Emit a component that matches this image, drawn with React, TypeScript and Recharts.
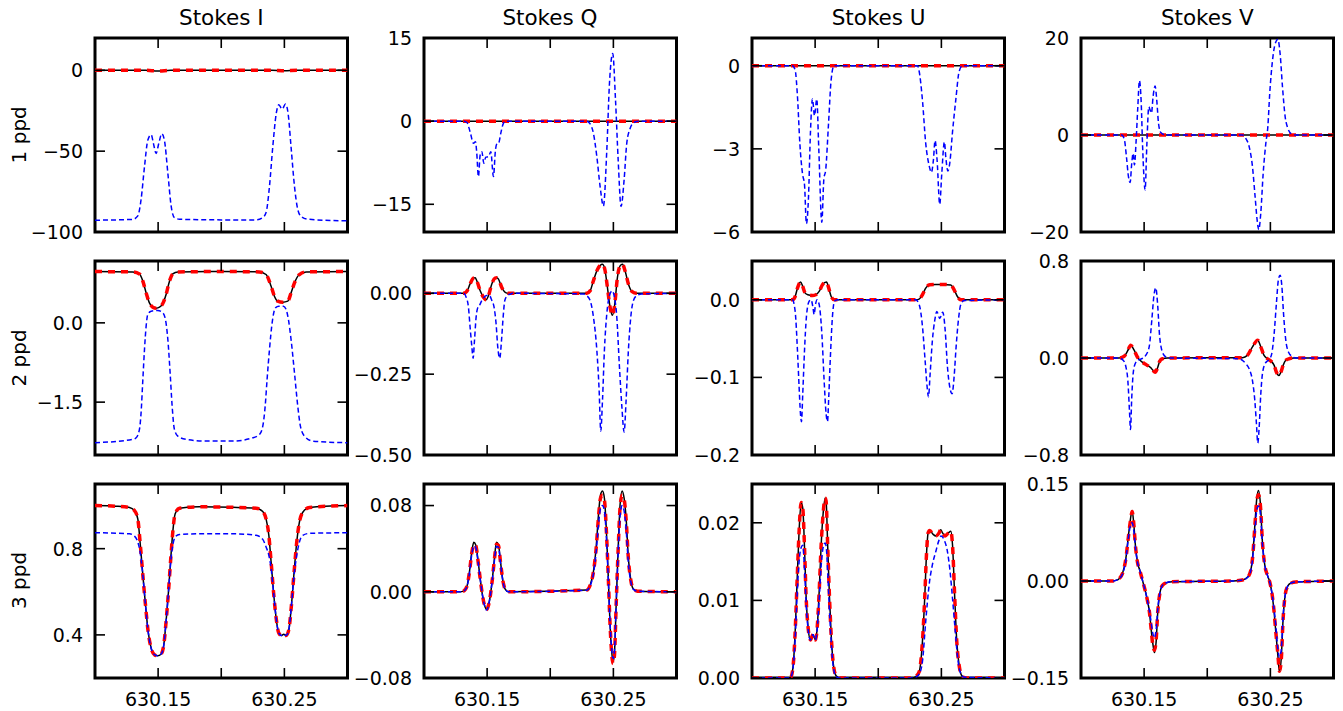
import { LineChart, Line, XAxis, YAxis, ReferenceArea } from "recharts";

type Pt = [number, number];

const columnTitles = ["Stokes I", "Stokes Q", "Stokes U", "Stokes V"];
const rowTitles = ["1 ppd", "2 ppd", "3 ppd"];
const waveTicks = [630.15, 630.2, 630.25];
const waveLabels = ["630.15", "", "630.25"];
const waveDomain = [630.1, 630.3];

// ---- 1 ppd ----
const i1Black: Pt[] = [[630.1, 0], [630.14, 0], [630.15, -0.4], [630.16, 0], [630.24, 0], [630.25, -0.3], [630.26, 0], [630.3, 0]];
const i1Blue: Pt[] = [[630.1, -92.7], [630.1299, -92.2], [630.1339, -90.0], [630.1365, -79.9], [630.1392, -59.6], [630.1418, -43.3], [630.1445, -39.8], [630.1463, -45.3], [630.1484, -51.4], [630.1505, -45.3], [630.1529, -39.2], [630.155, -43.3], [630.1577, -63.6], [630.1603, -83.9], [630.1629, -91.1], [630.1669, -92.1], [630.2, -92.5], [630.2276, -92.5], [630.2329, -91.1], [630.2355, -88.0], [630.2382, -71.7], [630.2408, -47.4], [630.2435, -27.0], [630.2456, -21.3], [630.2482, -24.0], [630.2509, -20.9], [630.253, -27.0], [630.2553, -47.4], [630.258, -71.7], [630.2606, -86.0], [630.2633, -90.4], [630.2685, -92.1], [630.3, -93.1]];

const q1Black: Pt[] = [[630.1, 0], [630.3, 0]];
const q1Blue: Pt[] = [[630.1, 0], [630.1313, 0], [630.1339, -0.2], [630.1365, -1.9], [630.1392, -4.0], [630.1408, -3.7], [630.1418, -5.8], [630.1431, -10.0], [630.1445, -6.1], [630.1458, -5.5], [630.1474, -7.6], [630.1489, -6.5], [630.1511, -6.4], [630.1529, -5.5], [630.155, -10.0], [630.1566, -5.2], [630.1579, -4.0], [630.1592, -3.9], [630.1608, -2.2], [630.1629, -0.4], [630.165, 0], [630.2289, 0], [630.2316, -0.5], [630.2342, -2.2], [630.2369, -6.4], [630.2395, -11.8], [630.2421, -15.3], [630.2448, -5.2], [630.2469, 6.8], [630.2495, 12.2], [630.2517, 3.8], [630.2538, -7.0], [630.2561, -15.4], [630.2585, -10.6], [630.2606, -4.0], [630.2633, -1.3], [630.2659, -0.3], [630.2699, 0], [630.3, 0]];

const u1Black: Pt[] = [[630.1, 0], [630.3, 0]];
const u1Blue: Pt[] = [[630.1, 0], [630.132, 0], [630.1342, -0.16], [630.136, -1.1], [630.1379, -2.8], [630.14, -3.9], [630.1416, -4.3], [630.1431, -5.7], [630.1447, -4.8], [630.1463, -2.4], [630.1479, -1.2], [630.1495, -1.8], [630.1513, -1.2], [630.1529, -3.0], [630.1553, -5.65], [630.1569, -4.1], [630.1584, -3.75], [630.1606, -2.1], [630.1627, -0.5], [630.165, 0], [630.2311, 0], [630.2324, -0.2], [630.235, -1.24], [630.2376, -2.8], [630.2403, -3.6], [630.2421, -3.85], [630.2437, -3.4], [630.245, -2.7], [630.2466, -3.4], [630.2487, -5.0], [630.2503, -3.9], [630.2524, -2.75], [630.2535, -3.3], [630.2551, -3.8], [630.2567, -3.5], [630.2588, -2.4], [630.2614, -1.24], [630.2641, -0.2], [630.2667, 0], [630.3, 0]];

const v1Black: Pt[] = [[630.1, 0], [630.3, 0]];
const v1Blue: Pt[] = [[630.1, 0], [630.1323, 0], [630.1344, -1.0], [630.136, -4.5], [630.1376, -8.6], [630.1389, -9.8], [630.1402, -5.8], [630.1413, -3.8], [630.1423, -6.2], [630.1437, -1.0], [630.145, 5.8], [630.1463, 11.2], [630.1476, 7.2], [630.1489, -3.1], [630.1508, -11.3], [630.1521, -2.4], [630.1537, 5.8], [630.1548, 5.1], [630.1558, 4.5], [630.1571, 7.9], [630.1587, 10.1], [630.16, 7.2], [630.1614, 2.4], [630.1632, 0.5], [630.1672, 0], [630.2279, 0], [630.2305, -0.7], [630.2332, -2.4], [630.2358, -6.5], [630.2379, -12.7], [630.2395, -17.5], [630.2408, -19.5], [630.2424, -16.1], [630.2443, -7.9], [630.2464, -1.7], [630.248, 1.7], [630.2495, 8.6], [630.2517, 15.4], [630.2538, 18.8], [630.2559, 19.7], [630.2577, 16.8], [630.2596, 9.9], [630.2617, 3.8], [630.2638, 1.4], [630.2664, 0.3], [630.2701, 0], [630.3, 0]];

// ---- 2 ppd ----
const i2Black: Pt[] = [[630.1, 0.97], [630.1299, 0.964], [630.1352, 0.926], [630.1379, 0.788], [630.1405, 0.567], [630.1431, 0.378], [630.1458, 0.296], [630.1484, 0.277], [630.1511, 0.296], [630.1537, 0.365], [630.1563, 0.536], [630.159, 0.788], [630.1616, 0.926], [630.1656, 0.964], [630.2, 0.97], [630.2303, 0.964], [630.2355, 0.914], [630.2395, 0.693], [630.2421, 0.504], [630.2448, 0.41], [630.2487, 0.39], [630.2527, 0.41], [630.2553, 0.567], [630.258, 0.756], [630.2619, 0.914], [630.2672, 0.964], [630.3, 0.97]];
const i2Blue: Pt[] = [[630.1, -2.268], [630.1299, -2.205], [630.1326, -2.174], [630.1352, -2.016], [630.1365, -1.701], [630.1379, -1.071], [630.1392, -0.504], [630.1405, -0.063], [630.1418, 0.158], [630.1445, 0.22], [630.1497, 0.233], [630.1537, 0.189], [630.1558, 0.063], [630.1577, -0.315], [630.1595, -0.945], [630.1611, -1.575], [630.1629, -2.016], [630.1656, -2.142], [630.1722, -2.205], [630.188, -2.237], [630.2091, -2.237], [630.225, -2.174], [630.2303, -2.111], [630.2329, -1.953], [630.2348, -1.575], [630.2363, -1.071], [630.2382, -0.504], [630.2403, 0], [630.2429, 0.284], [630.2456, 0.315], [630.2493, 0.315], [630.2514, 0.252], [630.2532, 0.063], [630.2553, -0.315], [630.258, -0.945], [630.2606, -1.575], [630.2627, -1.953], [630.2659, -2.142], [630.2725, -2.237], [630.3, -2.268]];

const q2Black: Pt[] = [[630.1, 0], [630.1313, 0], [630.1339, 0.006], [630.1365, 0.029], [630.1392, 0.047], [630.1405, 0.048], [630.1418, 0.039], [630.1445, 0.008], [630.1471, -0.012], [630.1492, -0.02], [630.1511, -0.007], [630.1537, 0.029], [630.1563, 0.047], [630.1577, 0.048], [630.159, 0.044], [630.1616, 0.018], [630.1643, 0.003], [630.1669, 0], [630.2289, 0], [630.2316, 0.008], [630.2342, 0.039], [630.2374, 0.074], [630.2414, 0.09], [630.2435, 0.069], [630.2453, 0.018], [630.2474, -0.043], [630.2493, -0.068], [630.2511, -0.033], [630.2532, 0.049], [630.2553, 0.085], [630.2572, 0.09], [630.2593, 0.069], [630.2619, 0.029], [630.2646, 0.006], [630.2685, 0], [630.3, 0]];
const q2Blue: Pt[] = [[630.1, 0], [630.1313, 0], [630.1334, -0.012], [630.1352, -0.043], [630.1365, -0.104], [630.1379, -0.165], [630.1389, -0.201], [630.14, -0.145], [630.1413, -0.073], [630.1423, -0.048], [630.1439, -0.038], [630.1458, -0.022], [630.1476, -0.012], [630.1497, -0.007], [630.1518, -0.007], [630.1537, -0.022], [630.1555, -0.043], [630.1571, -0.094], [630.1584, -0.165], [630.16, -0.201], [630.1614, -0.145], [630.1627, -0.073], [630.164, -0.022], [630.1661, -0.007], [630.1687, -0.002], [630.17, 0], [630.2263, -0.002], [630.2289, -0.007], [630.2316, -0.022], [630.2342, -0.073], [630.2369, -0.176], [630.2387, -0.298], [630.24, -0.426], [630.2414, -0.329], [630.2429, -0.176], [630.2448, -0.063], [630.2469, -0.007], [630.249, 0.008], [630.2506, -0.007], [630.2527, -0.073], [630.2548, -0.227], [630.2567, -0.349], [630.2585, -0.429], [630.2601, -0.329], [630.2619, -0.176], [630.2638, -0.073], [630.2659, -0.022], [630.2685, -0.007], [630.2725, -0.002], [630.3, 0]];

const u2Black: Pt[] = [[630.1, 0], [630.132, 0], [630.1342, 0.0043], [630.136, 0.015], [630.1384, 0.0228], [630.1402, 0.0172], [630.1421, 0.0086], [630.1442, 0.0065], [630.1479, 0.0056], [630.1505, 0.0065], [630.1532, 0.0108], [630.1558, 0.0194], [630.159, 0.0228], [630.1608, 0.015], [630.1627, 0.0043], [630.1653, 0], [630.23, 0], [630.2324, 0.0009], [630.235, 0.0065], [630.2376, 0.015], [630.2408, 0.0194], [630.2456, 0.0198], [630.2509, 0.0198], [630.2575, 0.019], [630.2601, 0.0129], [630.2627, 0.0043], [630.2654, 0], [630.3, 0]];
const u2Blue: Pt[] = [[630.1, 0], [630.132, 0], [630.1342, -0.015], [630.136, -0.065], [630.1373, -0.112], [630.1384, -0.147], [630.1392, -0.157], [630.1402, -0.121], [630.1416, -0.065], [630.1431, -0.022], [630.1452, -0.002], [630.1468, 0], [630.1482, -0.009], [630.1492, -0.019], [630.1503, -0.006], [630.1516, 0], [630.1532, -0.006], [630.1553, -0.043], [630.1571, -0.103], [630.1587, -0.147], [630.1598, -0.157], [630.1608, -0.125], [630.1621, -0.073], [630.1637, -0.022], [630.1653, -0.002], [630.1677, 0], [630.2297, 0], [630.2324, -0.006], [630.235, -0.034], [630.2371, -0.078], [630.2387, -0.112], [630.2398, -0.125], [630.2411, -0.095], [630.2429, -0.052], [630.2448, -0.026], [630.2464, -0.015], [630.2487, -0.024], [630.2511, -0.016], [630.253, -0.039], [630.2548, -0.086], [630.2567, -0.113], [630.2585, -0.121], [630.2601, -0.099], [630.2617, -0.06], [630.2635, -0.026], [630.2654, -0.006], [630.268, -0.001], [630.3, 0]];

const v2Black: Pt[] = [[630.1, 0], [630.1302, 0], [630.1342, 0.014], [630.1368, 0.056], [630.1394, 0.106], [630.1421, 0.064], [630.1447, 0.008], [630.1474, -0.025], [630.1513, -0.053], [630.1553, -0.081], [630.1571, -0.103], [630.1587, -0.117], [630.1606, -0.083], [630.1624, -0.025], [630.1645, -0.006], [630.1685, 0], [630.2279, 0.003], [630.2318, 0.022], [630.2358, 0.092], [630.24, 0.147], [630.2424, 0.092], [630.245, 0.022], [630.2477, -0.006], [630.2503, -0.025], [630.253, -0.061], [630.2548, -0.117], [630.2567, -0.145], [630.2583, -0.117], [630.2601, -0.061], [630.2622, -0.019], [630.2649, -0.006], [630.2688, 0], [630.3, 0]];
const v2Blue: Pt[] = [[630.1, 0], [630.1302, 0], [630.1334, -0.019], [630.1355, -0.07], [630.1371, -0.186], [630.1384, -0.437], [630.1392, -0.59], [630.1402, -0.326], [630.1413, -0.131], [630.1429, -0.047], [630.145, -0.019], [630.1482, -0.006], [630.1513, 0.022], [630.154, 0.092], [630.1561, 0.314], [630.1577, 0.509], [630.1592, 0.579], [630.1608, 0.426], [630.1621, 0.203], [630.164, 0.064], [630.1666, 0.014], [630.1698, 0], [630.2252, -0.006], [630.2279, -0.019], [630.2305, -0.047], [630.2332, -0.089], [630.2358, -0.186], [630.2377, -0.353], [630.239, -0.548], [630.24, -0.701], [630.2411, -0.576], [630.2424, -0.298], [630.2437, -0.131], [630.2458, -0.047], [630.2477, -0.025], [630.2495, -0.006], [630.2511, 0.036], [630.253, 0.203], [630.2548, 0.454], [630.2564, 0.648], [630.2577, 0.682], [630.2591, 0.593], [630.2604, 0.37], [630.2622, 0.147], [630.2643, 0.05], [630.267, 0.014], [630.2701, 0], [630.3, 0]];

// ---- 3 ppd ----
const i3Black: Pt[] = [[630.1, 1.0], [630.1167, 0.997], [630.1273, 0.991], [630.1313, 0.977], [630.1339, 0.938], [630.1357, 0.831], [630.1379, 0.677], [630.14, 0.538], [630.1421, 0.415], [630.1445, 0.338], [630.1471, 0.308], [630.1497, 0.303], [630.1524, 0.311], [630.1545, 0.354], [630.1563, 0.462], [630.1582, 0.6], [630.16, 0.754], [630.1616, 0.877], [630.1635, 0.962], [630.1669, 0.988], [630.1827, 0.994], [630.2091, 0.992], [630.2276, 0.988], [630.2329, 0.972], [630.2355, 0.938], [630.2377, 0.862], [630.2395, 0.738], [630.2414, 0.6], [630.2435, 0.477], [630.2456, 0.408], [630.2477, 0.397], [630.2495, 0.403], [630.2514, 0.397], [630.2535, 0.423], [630.2556, 0.538], [630.2577, 0.692], [630.2598, 0.831], [630.2619, 0.923], [630.2646, 0.969], [630.2699, 0.991], [630.3, 1.0]];
const i3Blue: Pt[] = [[630.1, 0.874], [630.1273, 0.869], [630.1313, 0.858], [630.1339, 0.831], [630.1357, 0.785], [630.1379, 0.677], [630.14, 0.538], [630.1421, 0.415], [630.1445, 0.338], [630.1471, 0.308], [630.1497, 0.303], [630.1524, 0.311], [630.1545, 0.354], [630.1563, 0.462], [630.1582, 0.6], [630.16, 0.738], [630.1616, 0.815], [630.1635, 0.854], [630.1669, 0.866], [630.1827, 0.869], [630.2091, 0.869], [630.2276, 0.862], [630.2329, 0.843], [630.2355, 0.808], [630.2377, 0.769], [630.2395, 0.708], [630.2414, 0.6], [630.2435, 0.477], [630.2456, 0.408], [630.2477, 0.397], [630.2495, 0.403], [630.2514, 0.397], [630.2535, 0.423], [630.2556, 0.538], [630.2577, 0.677], [630.2598, 0.769], [630.2619, 0.831], [630.2646, 0.862], [630.2699, 0.871], [630.3, 0.874]];

const q3Black: Pt[] = [[630.1, 0], [630.1286, 0], [630.1313, 0.0006], [630.1339, 0.0047], [630.136, 0.0186], [630.1379, 0.0372], [630.1394, 0.0459], [630.141, 0.0434], [630.1426, 0.031], [630.1445, 0.0124], [630.1463, -0.0031], [630.1479, -0.0124], [630.1495, -0.0161], [630.1511, -0.0124], [630.1526, -0.0031], [630.1542, 0.0124], [630.1558, 0.031], [630.1574, 0.0459], [630.159, 0.0434], [630.1606, 0.0279], [630.1624, 0.0109], [630.1643, 0.0025], [630.1669, 0], [630.2289, 0.0016], [630.2316, 0.0062], [630.2342, 0.0186], [630.2363, 0.0403], [630.2382, 0.0713], [630.2398, 0.0899], [630.2414, 0.0936], [630.2429, 0.0868], [630.2445, 0.0558], [630.2461, 0.0093], [630.2474, -0.031], [630.2487, -0.0558], [630.2498, -0.0651], [630.2509, -0.0558], [630.2522, -0.0124], [630.2538, 0.0403], [630.2553, 0.0806], [630.2569, 0.0936], [630.2585, 0.0868], [630.2601, 0.0682], [630.2619, 0.031], [630.2638, 0.0109], [630.2659, 0.0025], [630.2691, 0.0006], [630.3, 0]];
const q3Red: Pt[] = [[630.1, 0], [630.1286, 0], [630.1313, 0.0006], [630.1339, 0.0047], [630.136, 0.0184], [630.1379, 0.0365], [630.1394, 0.044], [630.141, 0.043], [630.1426, 0.0305], [630.1445, 0.0122], [630.1463, -0.0031], [630.1479, -0.0125], [630.1495, -0.0165], [630.1511, -0.0125], [630.1526, -0.0031], [630.1542, 0.0122], [630.1558, 0.0305], [630.1574, 0.044], [630.159, 0.043], [630.1606, 0.0275], [630.1624, 0.0108], [630.1643, 0.0025], [630.1669, 0], [630.2289, 0.0016], [630.2316, 0.0062], [630.2342, 0.0184], [630.2363, 0.0395], [630.2382, 0.069], [630.2398, 0.087], [630.2414, 0.0895], [630.2429, 0.085], [630.2445, 0.0555], [630.2461, 0.0093], [630.2474, -0.031], [630.2487, -0.058], [630.2498, -0.0667], [630.2509, -0.058], [630.2522, -0.0124], [630.2538, 0.0395], [630.2553, 0.078], [630.2569, 0.0895], [630.2585, 0.086], [630.2601, 0.067], [630.2619, 0.0305], [630.2638, 0.0108], [630.2659, 0.0025], [630.2691, 0.0006], [630.3, 0]];
const q3Blue: Pt[] = [[630.1, 0], [630.1286, 0], [630.1313, 0.0005], [630.1339, 0.0042], [630.136, 0.0172], [630.1379, 0.035], [630.1394, 0.0425], [630.141, 0.041], [630.1426, 0.03], [630.1445, 0.0118], [630.1463, -0.003], [630.1479, -0.0124], [630.1495, -0.017], [630.1511, -0.0124], [630.1526, -0.003], [630.1542, 0.0118], [630.1558, 0.029], [630.1574, 0.042], [630.159, 0.0415], [630.1606, 0.027], [630.1624, 0.0105], [630.1643, 0.0022], [630.1669, 0], [630.2289, 0.0014], [630.2316, 0.0055], [630.2342, 0.0165], [630.2363, 0.036], [630.2382, 0.062], [630.2398, 0.077], [630.2414, 0.08], [630.2429, 0.075], [630.2445, 0.05], [630.2461, 0.008], [630.2474, -0.03], [630.2487, -0.053], [630.2498, -0.062], [630.2509, -0.054], [630.2522, -0.012], [630.2538, 0.036], [630.2553, 0.07], [630.2569, 0.08], [630.2585, 0.075], [630.2601, 0.058], [630.2619, 0.026], [630.2638, 0.0095], [630.2659, 0.0022], [630.2691, 0.0005], [630.3, 0]];

const u3Black: Pt[] = [[630.1, 0], [630.1294, 0], [630.1307, 0.0001], [630.1326, 0.0016], [630.1342, 0.006], [630.1357, 0.0124], [630.1373, 0.0189], [630.1389, 0.0226], [630.1402, 0.0219], [630.1416, 0.0168], [630.1429, 0.0103], [630.1445, 0.0064], [630.1463, 0.0049], [630.1482, 0.0056], [630.1503, 0.0049], [630.1516, 0.0064], [630.1532, 0.0111], [630.1548, 0.0172], [630.1563, 0.0211], [630.1579, 0.0232], [630.1587, 0.0228], [630.16, 0.0168], [630.1614, 0.0103], [630.1629, 0.005], [630.1645, 0.0017], [630.1666, 0.0003], [630.1695, 0], [630.2271, 0], [630.2297, 0.0002], [630.2324, 0.0008], [630.235, 0.0047], [630.2368, 0.0103], [630.2382, 0.0159], [630.2395, 0.0187], [630.2408, 0.019], [630.2435, 0.0185], [630.2456, 0.0183], [630.2482, 0.0187], [630.2495, 0.0191], [630.2509, 0.0187], [630.253, 0.0183], [630.2556, 0.0187], [630.2575, 0.0189], [630.2588, 0.0172], [630.2606, 0.0103], [630.2622, 0.0047], [630.2641, 0.0016], [630.2662, 0.0003], [630.2694, 0], [630.3, 0]];
const u3Blue: Pt[] = [[630.1, 0], [630.1294, 0], [630.1307, 0.0001], [630.1326, 0.0014], [630.1342, 0.005], [630.1357, 0.0105], [630.1373, 0.015], [630.1389, 0.0168], [630.1402, 0.0171], [630.1416, 0.014], [630.1429, 0.0095], [630.1445, 0.0062], [630.1463, 0.0049], [630.1482, 0.0056], [630.1503, 0.0049], [630.1516, 0.0062], [630.1532, 0.01], [630.1548, 0.0145], [630.1563, 0.0168], [630.1579, 0.0174], [630.1587, 0.017], [630.16, 0.0135], [630.1614, 0.0085], [630.1629, 0.0042], [630.1645, 0.0013], [630.1666, 0.0002], [630.1695, 0], [630.2271, 0], [630.2297, 0.0001], [630.2324, 0.0005], [630.235, 0.0021], [630.2376, 0.0073], [630.2403, 0.012], [630.2429, 0.0146], [630.2456, 0.0163], [630.2482, 0.0178], [630.2498, 0.0183], [630.2522, 0.0178], [630.2548, 0.0163], [630.2569, 0.0137], [630.2588, 0.0103], [630.2606, 0.0068], [630.2627, 0.0029], [630.2648, 0.0008], [630.268, 0.0001], [630.3, 0]];

const v3Black: Pt[] = [[630.1, 0], [630.1249, 0], [630.1276, 0.001], [630.1302, 0.0036], [630.1328, 0.0113], [630.1355, 0.0345], [630.1376, 0.0705], [630.1392, 0.0962], [630.1405, 0.1091], [630.1418, 0.0885], [630.1431, 0.0551], [630.1447, 0.0293], [630.1466, 0.0165], [630.1487, 0.001], [630.1508, -0.0144], [630.1526, -0.0299], [630.1542, -0.0479], [630.1555, -0.0736], [630.1569, -0.0968], [630.1582, -0.1106], [630.1595, -0.0942], [630.1608, -0.0479], [630.1624, -0.0196], [630.1645, -0.0067], [630.1677, -0.0026], [630.1724, -0.001], [630.1962, -0.0005], [630.22, 0], [630.2266, 0.001], [630.2305, 0.0036], [630.2337, 0.0113], [630.2358, 0.0345], [630.2377, 0.0859], [630.2392, 0.1271], [630.2406, 0.14], [630.2422, 0.1168], [630.2437, 0.0602], [630.2456, 0.0242], [630.2477, 0.0087], [630.2495, -0.0015], [630.2511, -0.017], [630.2527, -0.0427], [630.2543, -0.0787], [630.2559, -0.1148], [630.2572, -0.1405], [630.2586, -0.1199], [630.2601, -0.0582], [630.2617, -0.0221], [630.2638, -0.0077], [630.2665, -0.0031], [630.2701, -0.0015], [630.3, 0]];
const v3Red: Pt[] = [[630.1, 0], [630.1249, 0], [630.1276, 0.001], [630.1302, 0.0036], [630.1328, 0.0113], [630.1355, 0.034], [630.1376, 0.069], [630.1392, 0.0937], [630.1405, 0.1076], [630.1418, 0.0885], [630.1431, 0.0551], [630.1447, 0.0293], [630.1466, 0.0165], [630.1487, 0.001], [630.1508, -0.0144], [630.1526, -0.0299], [630.1542, -0.0479], [630.1555, -0.073], [630.1569, -0.0993], [630.1582, -0.107], [630.1595, -0.0916], [630.1608, -0.0479], [630.1624, -0.0196], [630.1645, -0.0067], [630.1677, -0.0026], [630.1724, -0.001], [630.1962, -0.0005], [630.22, 0], [630.2266, 0.001], [630.2305, 0.0036], [630.2337, 0.0113], [630.2358, 0.034], [630.2377, 0.084], [630.2392, 0.1245], [630.2406, 0.1333], [630.2422, 0.1143], [630.2437, 0.0602], [630.2456, 0.0242], [630.2477, 0.0087], [630.2495, -0.0015], [630.2511, -0.017], [630.2527, -0.0427], [630.2543, -0.0787], [630.2559, -0.1122], [630.2572, -0.1395], [630.2586, -0.1225], [630.2601, -0.0582], [630.2617, -0.0221], [630.2638, -0.0077], [630.2665, -0.0031], [630.2701, -0.0015], [630.3, 0]];
const v3Blue: Pt[] = [[630.1, 0], [630.1249, 0], [630.1276, 0.001], [630.1302, 0.0034], [630.1328, 0.0105], [630.1355, 0.032], [630.1376, 0.068], [630.1392, 0.086], [630.1405, 0.09], [630.1418, 0.078], [630.1431, 0.0525], [630.1447, 0.0293], [630.1466, 0.0165], [630.1487, 0.001], [630.1508, -0.0144], [630.1526, -0.0299], [630.1542, -0.046], [630.1555, -0.063], [630.1569, -0.081], [630.1582, -0.088], [630.1595, -0.076], [630.1608, -0.043], [630.1624, -0.0196], [630.1645, -0.0067], [630.1677, -0.0026], [630.1724, -0.001], [630.1962, -0.0005], [630.22, 0], [630.2266, 0.001], [630.2305, 0.0034], [630.2337, 0.0105], [630.2358, 0.032], [630.2377, 0.0757], [630.2392, 0.1091], [630.2406, 0.1158], [630.2422, 0.1014], [630.2437, 0.0576], [630.2456, 0.0242], [630.2477, 0.0087], [630.2495, -0.0015], [630.2511, -0.017], [630.2527, -0.04], [630.2543, -0.0684], [630.2559, -0.1045], [630.2572, -0.1173], [630.2586, -0.107], [630.2601, -0.053], [630.2617, -0.0221], [630.2638, -0.0077], [630.2665, -0.0031], [630.2701, -0.0015], [630.3, 0]];

// axis settings per panel, row by row (I, Q, U, V)
const yDomains = [
  [-100, 20], [-20, 15], [-6, 1], [-20, 20],
  [-2.5, 1.17], [-0.5, 0.1], [-0.2, 0.05], [-0.8, 0.8],
  [0.2, 1.1], [-0.08, 0.1], [0, 0.025], [-0.15, 0.15],
];
const yTicks = [
  [-100, -50, 0], [-15, 0, 15], [-6, -3, 0], [-20, 0, 20],
  [-1.5, 0], [-0.5, -0.25, 0], [-0.2, -0.1, 0], [-0.8, 0, 0.8],
  [0.4, 0.8], [-0.08, 0, 0.08], [0, 0.01, 0.02], [-0.15, 0, 0.15],
];
const yDigits = [0, 0, 0, 0, 1, 2, 1, 1, 1, 2, 2, 2];

const blackSeries = [i1Black, q1Black, u1Black, v1Black, i2Black, q2Black, u2Black, v2Black, i3Black, q3Black, u3Black, v3Black];
const redSeries = [i1Black, q1Black, u1Black, v1Black, i2Black, q2Black, u2Black, v2Black, i3Black, q3Red, u3Black, v3Red];
const blueSeries = [i1Blue, q1Blue, u1Blue, v1Blue, i2Blue, q2Blue, u2Blue, v2Blue, i3Blue, q3Blue, u3Blue, v3Blue];

const toRows = (pts: Pt[]) => pts.map(([w, v]) => ({ w, v }));

const FONT = "DejaVu Sans";
const PLOT_W = 252.5;
const PLOT_H = 194;
const COL_X = [95, 423.7, 752.4, 1081.1];
const ROW_Y = [37.8, 261, 483.5];
const LEFT = 70;
const TOP = 10;
const TICK = 10;

const fmt = (v: number, d: number) => (v === 0 ? (0).toFixed(d) : v.toFixed(d).replace("-", "\u2212"));

function XTick(props: any) {
  const { x, y, payload, showLabel } = props;
  const idx = waveTicks.indexOf(payload.value);
  return (
    <g>
      <line x1={x} y1={y} x2={x} y2={y - TICK} stroke="#000" strokeWidth={1.6} />
      <line x1={x} y1={y - PLOT_H} x2={x} y2={y - PLOT_H + TICK} stroke="#000" strokeWidth={1.6} />
      {showLabel && (
        <text x={x} y={y + 28} textAnchor="middle" fontSize={19} fontFamily={FONT} fill="#000">
          {waveLabels[idx]}
        </text>
      )}
    </g>
  );
}

function YTick(props: any) {
  const { x, y, payload, digits } = props;
  return (
    <g>
      <line x1={x} y1={y} x2={x + TICK} y2={y} stroke="#000" strokeWidth={1.6} />
      <line x1={x + PLOT_W} y1={y} x2={x + PLOT_W - TICK} y2={y} stroke="#000" strokeWidth={1.6} />
      <text x={x - 12} y={y} dy="0.36em" textAnchor="end" fontSize={19} fontFamily={FONT} fill="#000">
        {fmt(payload.value, digits)}
      </text>
    </g>
  );
}

function Panel({ idx }: { idx: number }) {
  const row = Math.floor(idx / 4);
  const col = idx % 4;
  const [y0, y1] = yDomains[idx];
  return (
    <div style={{ position: "absolute", left: COL_X[col] - LEFT, top: ROW_Y[row] - TOP }}>
      <LineChart width={PLOT_W + LEFT + 10} height={PLOT_H + TOP + 40} margin={{ top: TOP, right: 10, bottom: 0, left: 0 }}>
        <XAxis
          type="number"
          dataKey="w"
          domain={waveDomain}
          ticks={waveTicks}
          interval={0}
          allowDataOverflow
          axisLine={false}
          tickLine={false}
          tickSize={0}
          tickMargin={0}
          height={40}
          tick={(p: any) => <XTick {...p} showLabel={row === 2} />}
        />
        <YAxis
          type="number"
          domain={[y0, y1]}
          ticks={yTicks[idx]}
          interval={0}
          allowDataOverflow
          axisLine={false}
          tickLine={false}
          tickSize={0}
          tickMargin={0}
          width={LEFT}
          tick={(p: any) => <YTick {...p} digits={yDigits[idx]} />}
        />
        <Line data={toRows(blackSeries[idx])} dataKey="v" type="monotone" stroke="#000000" strokeWidth={1.5} dot={false} isAnimationActive={false} />
        <Line data={toRows(redSeries[idx])} dataKey="v" type="monotone" stroke="#ff0000" strokeWidth={3.5} strokeDasharray="7 6" dot={false} isAnimationActive={false} />
        <Line data={toRows(blueSeries[idx])} dataKey="v" type="monotone" stroke="#0000ff" strokeWidth={1.5} strokeDasharray="5 3" dot={false} isAnimationActive={false} />
        <ReferenceArea x1={waveDomain[0]} x2={waveDomain[1]} y1={y0} y2={y1} fill="none" stroke="#000" strokeWidth={3} ifOverflow="visible" />
      </LineChart>
    </div>
  );
}

export default function App() {
  return (
    <div style={{ position: "absolute", left: 0, top: 0, width: 1343, height: 711, background: "#fff" }}>
      {Array.from({ length: 12 }, (_, i) => (
        <Panel key={i} idx={i} />
      ))}
      <svg width={1343} height={711} style={{ position: "absolute", left: 0, top: 0, pointerEvents: "none" }}>
        {columnTitles.map((t, c) => (
          <text key={t} x={COL_X[c] + PLOT_W / 2} y={25} textAnchor="middle" fontSize={21.5} fontFamily={FONT} fill="#000">
            {t}
          </text>
        ))}
        {rowTitles.map((t, r) => {
          const cy = ROW_Y[r] + PLOT_H / 2;
          return (
            <text key={t} x={26} y={cy} textAnchor="middle" fontSize={20} fontFamily={FONT} fill="#000" transform={`rotate(-90, 26, ${cy})`}>
              {t}
            </text>
          );
        })}
      </svg>
    </div>
  );
}
